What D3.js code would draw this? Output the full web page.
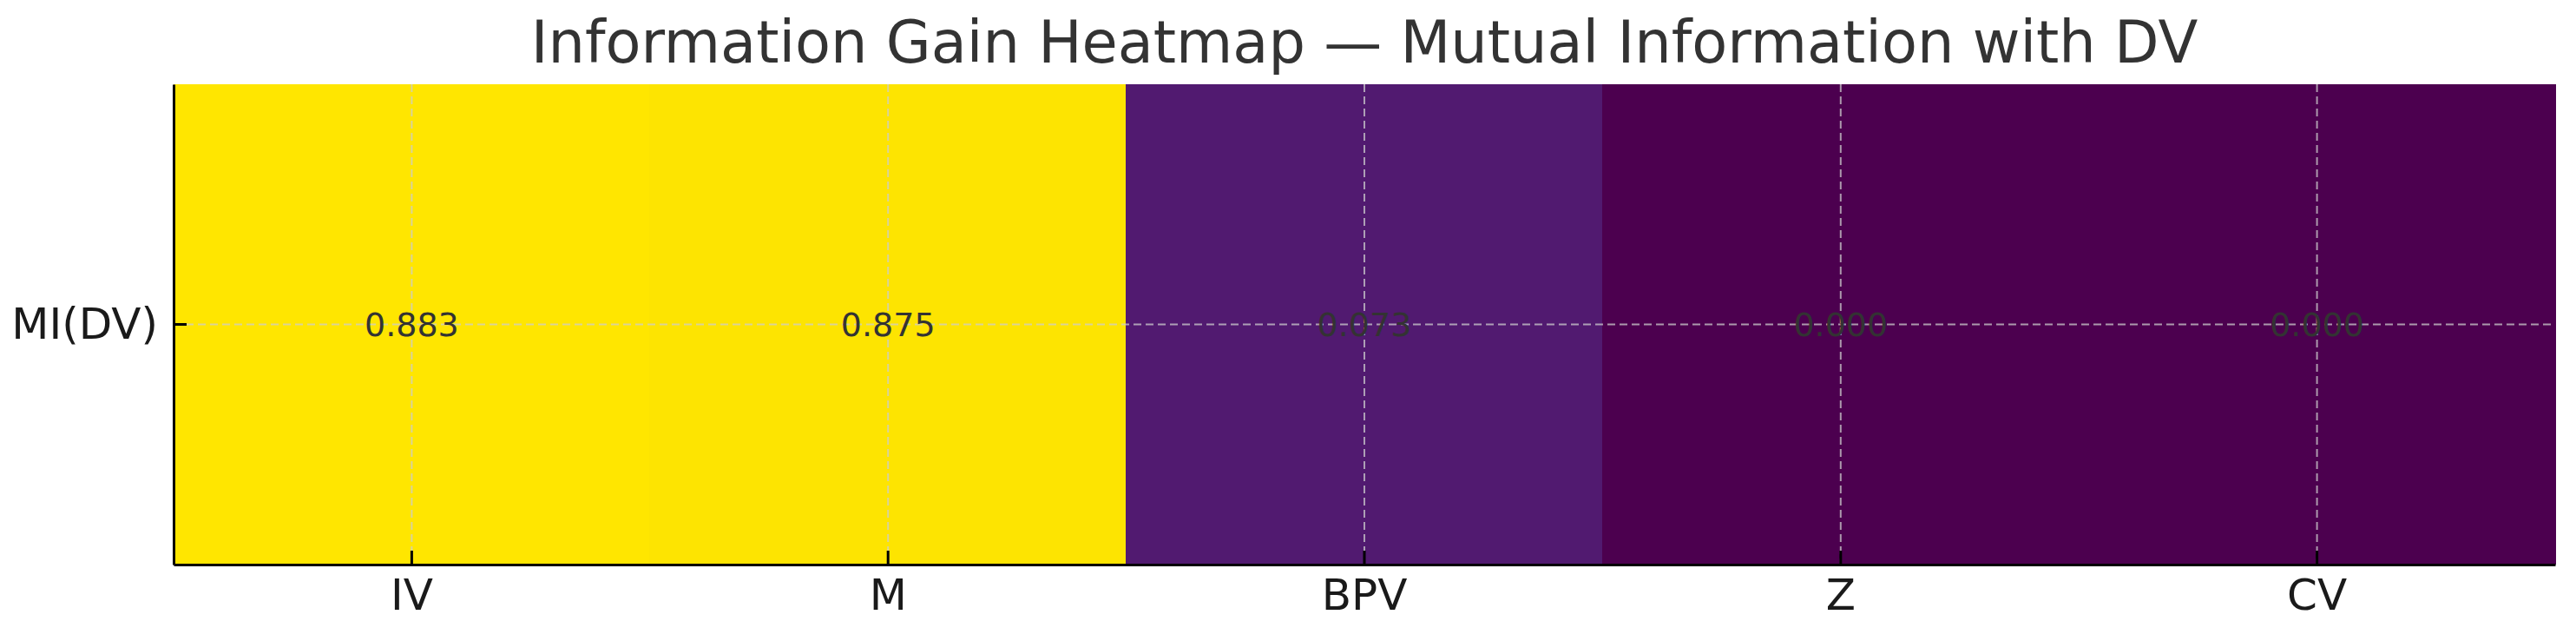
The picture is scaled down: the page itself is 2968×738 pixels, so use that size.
<!DOCTYPE html>
<html>
<head>
<meta charset="utf-8">
<script src="https://cdn.jsdelivr.net/npm/d3@7"></script>
<style>
  body { margin: 0; background: #fff; }
  text { font-family: "DejaVu Sans", sans-serif; }
</style>
</head>
<body>
<div id="chart"></div>
<script>
// data
var features = ["IV", "M", "BPV", "Z", "CV"];
var rows = ["MI(DV)"];
var miValues = [0.883, 0.875, 0.073, 0.000, 0.000];
var chartTitle = "Information Gain Heatmap \u2014 Mutual Information with DV";

var W = 2968, H = 738;
var margin = { top: 97, right: 24, bottom: 88, left: 200 };

var svg = d3.select("#chart").append("svg")
  .attr("width", W)
  .attr("height", H);

var x = d3.scaleBand().domain(features).range([margin.left, W - margin.right]).padding(0);
var y = d3.scaleBand().domain(rows).range([margin.top, H - margin.bottom]).padding(0);

// colour stops
var color = d3.scaleLinear()
  .domain([0, 0.073, 0.883])
  .range(["#4c004f", "#511a70", "#ffe600"])
  .clamp(true);

var cells = features.map(function(f, i) {
  return { feature: f, row: rows[0], value: miValues[i] };
});

svg.append("g")
  .attr("shape-rendering", "crispEdges")
  .selectAll("rect")
  .data(cells)
  .enter().append("rect")
  .attr("x", function(d) { return Math.floor(x(d.feature)); })
  .attr("y", function(d) { return y(d.row); })
  .attr("width", x.bandwidth() + 1)
  .attr("height", y.bandwidth())
  .attr("fill", function(d) { return color(d.value); });

// dashed grid over the cells
var grid = svg.append("g")
  .attr("stroke", "#cccccc")
  .attr("stroke-opacity", 0.75)
  .attr("stroke-width", 2)
  .attr("stroke-dasharray", "9,5");
grid.selectAll(".vgrid")
  .data(features)
  .enter().append("line")
  .attr("x1", function(d) { return x(d) + x.bandwidth() / 2; })
  .attr("x2", function(d) { return x(d) + x.bandwidth() / 2; })
  .attr("y1", margin.top)
  .attr("y2", H - margin.bottom);
grid.selectAll(".hgrid")
  .data(rows)
  .enter().append("line")
  .attr("x1", margin.left)
  .attr("x2", W - margin.right)
  .attr("y1", function(d) { return y(d) + y.bandwidth() / 2; })
  .attr("y2", function(d) { return y(d) + y.bandwidth() / 2; });

// value labels
svg.append("g").selectAll("text")
  .data(cells)
  .enter().append("text")
  .attr("x", function(d) { return x(d.feature) + x.bandwidth() / 2; })
  .attr("y", function(d) { return y(d.row) + y.bandwidth() / 2; })
  .attr("dy", "0.35em")
  .attr("text-anchor", "middle")
  .attr("font-size", 38)
  .attr("fill", "#333333")
  .text(function(d) { return d.value.toFixed(3); });

// axes, ticks point inward
var xAxis = svg.append("g")
  .attr("transform", "translate(0," + (H - margin.bottom) + ")")
  .call(d3.axisBottom(x).tickSizeInner(-16).tickSizeOuter(0).tickPadding(16));
var yAxis = svg.append("g")
  .attr("transform", "translate(" + margin.left + ",0)")
  .call(d3.axisLeft(y).tickSizeInner(-15).tickSizeOuter(0).tickPadding(18));

[xAxis, yAxis].forEach(function(a) {
  a.select(".domain").attr("stroke", "#000").attr("stroke-width", 3);
  a.selectAll(".tick line").attr("stroke", "#000").attr("stroke-width", 3);
  a.selectAll(".tick text")
    .attr("font-size", 50)
    .attr("fill", "#1a1a1a")
    .style("font-family", "'DejaVu Sans', sans-serif");
});

svg.append("text")
  .attr("x", (margin.left + W - margin.right) / 2)
  .attr("y", 72)
  .attr("text-anchor", "middle")
  .attr("font-size", 67)
  .attr("fill", "#333333")
  .text(chartTitle);
</script>
</body>
</html>
